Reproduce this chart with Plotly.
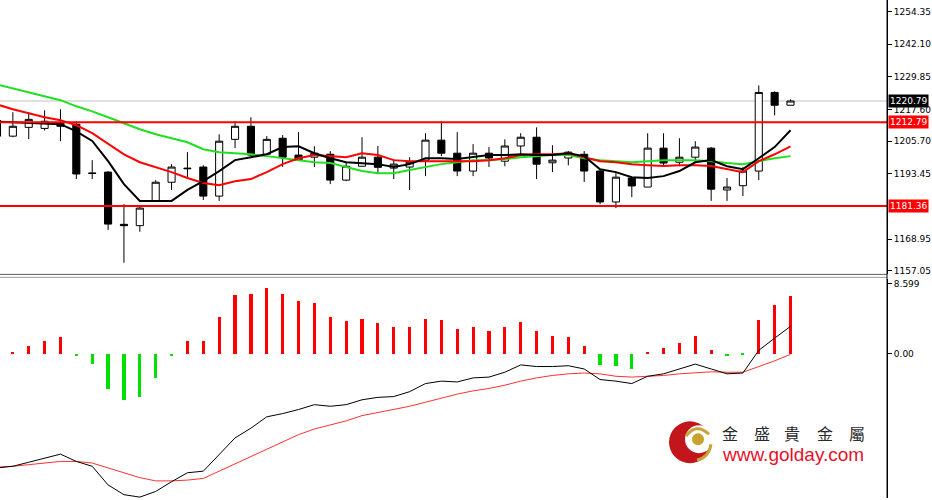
import plotly.graph_objects as go

# ---------------- data ----------------
idx = list(range(51))
opens = [1213.5, 1207.6, 1210.9, 1210.5, 1212.4, 1212.1, 1193.8, 1194.1, 1174.5, 1174.0,
         1183.2, 1190.3, 1195.6, 1196.0, 1185.1, 1206.4, 1211.3, 1200.8, 1206.8, 1200.5,
         1199.7, 1200.8, 1191.1, 1196.3, 1199.7, 1195.6, 1196.0, 1198.6, 1206.1, 1201.2,
         1194.5, 1201.2, 1198.2, 1203.9, 1207.2, 1197.6, 1199.4, 1200.8, 1194.5, 1182.9,
         1191.9, 1188.5, 1203.1, 1197.8, 1199.7, 1203.1, 1187.4, 1189.0, 1194.5, 1224.0,
         1219.2]
highs = [1215.0, 1216.6, 1216.6, 1217.3, 1217.7, 1213.2, 1198.6, 1194.5, 1182.1, 1181.4,
         1191.1, 1197.1, 1201.6, 1196.7, 1208.3, 1213.2, 1214.7, 1207.6, 1208.0, 1209.1,
         1203.8, 1202.0, 1197.8, 1207.2, 1203.9, 1199.0, 1199.7, 1208.7, 1213.2, 1209.1,
         1204.6, 1203.5, 1206.4, 1208.7, 1210.9, 1204.2, 1202.0, 1202.0, 1195.2, 1194.1,
         1192.2, 1208.7, 1208.7, 1206.8, 1205.7, 1203.5, 1191.9, 1196.0, 1226.6, 1224.4,
         1221.4]
lows = [1206.0, 1207.2, 1206.5, 1209.7, 1205.7, 1191.5, 1191.5, 1172.4, 1160.1, 1171.7,
        1182.9, 1187.4, 1191.9, 1183.6, 1183.3, 1203.1, 1200.1, 1200.5, 1196.0, 1198.2,
        1196.0, 1189.6, 1190.7, 1196.3, 1193.4, 1191.5, 1187.4, 1192.6, 1200.1, 1192.6,
        1192.6, 1196.0, 1196.3, 1200.8, 1191.5, 1194.1, 1196.7, 1190.4, 1182.1, 1180.6,
        1184.7, 1188.5, 1196.3, 1196.3, 1197.8, 1183.3, 1183.3, 1185.1, 1191.1, 1215.4,
        1219.2]
closes = [1207.6, 1211.3, 1213.9, 1213.2, 1211.3, 1193.4, 1193.6, 1174.6, 1174.0, 1180.6,
          1190.3, 1196.0, 1195.4, 1185.1, 1205.7, 1211.3, 1200.5, 1206.4, 1199.7, 1198.6,
          1201.2, 1191.1, 1196.3, 1199.7, 1195.9, 1197.1, 1197.8, 1206.1, 1201.2, 1194.5,
          1201.2, 1199.4, 1203.9, 1207.2, 1197.1, 1198.6, 1201.6, 1194.5, 1182.9, 1192.2,
          1188.9, 1203.1, 1197.5, 1199.7, 1203.5, 1187.7, 1188.5, 1194.5, 1224.0, 1219.2,
          1220.79]

ma_fast = [1213.0, 1212.8, 1212.6, 1212.4, 1212.1, 1209.4, 1205.8, 1198.2, 1189.6, 1183.3,
           1183.3, 1183.3, 1187.4, 1190.7, 1194.5, 1198.6, 1199.7, 1200.8, 1203.5, 1203.8,
           1201.2, 1199.3, 1197.8, 1197.5, 1197.1, 1196.0, 1197.1, 1199.3, 1199.3, 1199.0,
           1199.7, 1200.5, 1200.5, 1200.8, 1200.5, 1200.5, 1201.2, 1200.1, 1195.2, 1194.1,
           1192.2, 1191.9, 1192.6, 1194.5, 1197.8, 1198.6, 1196.3, 1195.2, 1199.3, 1203.5,
           1209.8]
ma_mid = [1219.5, 1217.7, 1216.2, 1214.7, 1213.6, 1211.7, 1208.7, 1204.6, 1200.8, 1197.8,
          1196.0, 1194.1, 1191.9, 1190.0, 1189.2, 1190.7, 1191.5, 1194.1, 1197.1, 1199.3,
          1200.5, 1200.1, 1199.7, 1201.2, 1200.5, 1198.6, 1198.2, 1198.2, 1198.2, 1198.2,
          1198.2, 1198.6, 1199.3, 1200.5, 1200.8, 1200.8, 1201.2, 1199.7, 1198.2, 1197.8,
          1197.1, 1196.7, 1196.4, 1196.7, 1196.7, 1196.4, 1195.2, 1194.1, 1198.2, 1200.8,
          1203.8]
ma_slow = [1227.0, 1225.5, 1224.0, 1222.5, 1221.1, 1218.8, 1216.9, 1214.7, 1212.4, 1210.2,
           1208.3, 1206.8, 1205.3, 1202.7, 1201.6, 1201.2, 1200.8, 1200.1, 1199.3, 1198.6,
           1197.8, 1197.5, 1196.0, 1194.5, 1193.7, 1193.7, 1194.9, 1196.0, 1197.1, 1197.8,
           1198.6, 1198.6, 1199.0, 1199.7, 1200.1, 1200.5, 1200.5, 1199.3, 1198.6, 1198.2,
           1197.8, 1198.2, 1198.6, 1198.6, 1198.6, 1198.2, 1197.5, 1197.1, 1198.2, 1199.3,
           1200.1]

macd_hist = [None, 0.1, 0.9, 1.56, 2.05, -0.3, -1.23, -4.3, -5.73, -5.32,
             -2.95, -0.3, 1.56, 1.56, 4.58, 7.25, 7.37, 8.1, 7.37, 6.5,
             6.26, 4.58, 4.09, 4.3, 3.77, 3.28, 3.28, 4.3, 4.2, 3.07,
             3.28, 2.79, 3.28, 3.89, 2.79, 2.17, 2.05, 0.94, -1.43, -1.5,
             -1.84, 0.2, 0.7, 1.31, 2.17, 0.5, -0.3, -0.1, 4.2, 6.05,
             7.16]
macd_main = [-14.1, -13.9, -13.4, -12.9, -12.4, -13.3, -13.9, -16.2, -17.4, -17.7,
             -17.0, -15.8, -14.7, -14.5, -12.5, -10.4, -9.2, -7.8, -7.4, -6.9,
             -6.3, -6.5, -6.3, -5.7, -5.4, -5.3, -4.7, -3.7, -3.4, -3.5,
             -3.0, -2.9, -2.3, -1.4, -1.6, -1.6, -1.5, -1.9, -3.2, -3.4,
             -3.7, -2.8, -2.5, -1.9, -1.3, -1.9, -2.5, -2.4, 0.4, 1.9,
             3.35]
macd_signal = [-14.0, -13.9, -13.7, -13.5, -13.3, -13.3, -13.5, -14.1, -14.7, -15.3,
               -15.7, -15.7, -15.6, -15.4, -14.5, -13.6, -12.7, -11.8, -10.8, -10.0,
               -9.3, -8.8, -8.3, -7.65, -7.25, -6.9, -6.5, -6.0, -5.5, -5.0,
               -4.6, -4.3, -3.9, -3.4, -3.0, -2.7, -2.5, -2.4, -2.5, -2.8,
               -2.9, -2.8, -2.7, -2.5, -2.4, -2.25, -2.3, -2.3, -1.6, -0.9,
               -0.1]

price_ticks = [1254.35, 1242.10, 1229.85, 1217.60, 1205.70, 1193.45, 1168.95, 1157.05]
price_tick_text = ["1254.35", "1242.10", "1229.85", "1217.60", "1205.70", "1193.45", "1168.95", "1157.05"]
resistance = 1212.79
support = 1181.36
bid = 1220.79
osc_ticks = [8.599, 0.0]
osc_tick_text = ["8.599", "0.00"]

logo_cn = ["金", "盛", "貴", "金", "屬"]
logo_url = "www.golday.com"

# ---------------- figure ----------------
PW, PH = 887.0, 500.0


def px(x):
    return x / PW


def py(y):
    return 1 - y / PH


FONT = "DejaVu Sans"

fig = go.Figure()

fig.add_trace(go.Candlestick(
    x=idx, open=opens, high=highs, low=lows, close=closes,
    increasing=dict(line=dict(color="#000000", width=1), fillcolor="#ffffff"),
    decreasing=dict(line=dict(color="#000000", width=1), fillcolor="#000000"),
    whiskerwidth=0, showlegend=False, hoverinfo="skip",
    xaxis="x", yaxis="y"))

fig.add_trace(go.Scatter(x=idx, y=ma_slow, mode="lines",
                         line=dict(color="#1ee01e", width=2), showlegend=False,
                         xaxis="x", yaxis="y"))
fig.add_trace(go.Scatter(x=idx, y=ma_mid, mode="lines",
                         line=dict(color="#ff0000", width=2), showlegend=False,
                         xaxis="x", yaxis="y"))
fig.add_trace(go.Scatter(x=idx, y=ma_fast, mode="lines",
                         line=dict(color="#000000", width=2), showlegend=False,
                         xaxis="x", yaxis="y"))

bar_colors = ["#ff0000" if (v is not None and v >= 0) else "#00e000" for v in macd_hist]
fig.add_trace(go.Bar(x=idx, y=macd_hist, marker=dict(color=bar_colors, line=dict(width=0)),
                     width=0.2, showlegend=False, xaxis="x", yaxis="y2"))
fig.add_trace(go.Scatter(x=idx, y=macd_signal, mode="lines",
                         line=dict(color="#ff3030", width=1), showlegend=False,
                         xaxis="x", yaxis="y2"))
fig.add_trace(go.Scatter(x=idx, y=macd_main, mode="lines",
                         line=dict(color="#000000", width=1), showlegend=False,
                         xaxis="x", yaxis="y2"))

shapes = [
    dict(type="line", xref="paper", x0=0, x1=1, yref="y", y0=bid, y1=bid,
         line=dict(color="#c0c0c0", width=1), layer="below"),
    dict(type="line", xref="paper", x0=0, x1=1, yref="y", y0=resistance, y1=resistance,
         line=dict(color="#ff0000", width=2)),
    dict(type="line", xref="paper", x0=0, x1=1, yref="y", y0=support, y1=support,
         line=dict(color="#ff0000", width=2)),
    # pane separators
    dict(type="line", xref="paper", yref="paper", x0=0, x1=1, y0=py(275.5), y1=py(275.5),
         line=dict(color="#606060", width=1)),
    dict(type="line", xref="paper", yref="paper", x0=0, x1=1, y0=py(278.5), y1=py(278.5),
         line=dict(color="#a0a0a0", width=1)),
    # right axis line full height
    dict(type="line", xref="paper", yref="paper", x0=1, x1=1, y0=0, y1=1,
         line=dict(color="#000000", width=1)),
    # logo
    dict(type="circle", xref="paper", yref="paper", x0=px(669), x1=px(711), y0=py(465), y1=py(423),
         fillcolor="#c3151c", line=dict(width=0)),
    dict(type="circle", xref="paper", yref="paper", x0=px(685), x1=px(713), y0=py(455), y1=py(427),
         fillcolor="#ffffff", line=dict(width=0)),
    dict(type="path", xref="paper", yref="paper",
         path="M {} {} Q {} {} {} {}".format(px(686), py(438), px(696), py(424), px(709), py(436)),
         line=dict(color="#c9a33a", width=3)),
    dict(type="path", xref="paper", yref="paper",
         path="M {} {} Q {} {} {} {}".format(px(711), py(446), px(709), py(459), px(697), py(462)),
         line=dict(color="#c9a33a", width=3)),
    dict(type="circle", xref="paper", yref="paper", x0=px(692), x1=px(704), y0=py(447), y1=py(435),
         fillcolor="#c8a22c", line=dict(width=0)),
]

annotations = [
    dict(x=1, xref="paper", y=bid, yref="y", text="1220.79", xanchor="left", xshift=1,
         showarrow=False, bgcolor="#000000", borderpad=1,
         font=dict(family=FONT, size=9, color="#ffffff")),
    dict(x=1, xref="paper", y=resistance, yref="y", text="1212.79", xanchor="left", xshift=1,
         showarrow=False, bgcolor="#ff0000", borderpad=1,
         font=dict(family=FONT, size=9, color="#ffffff")),
    dict(x=1, xref="paper", y=support, yref="y", text="1181.36", xanchor="left", xshift=1,
         showarrow=False, bgcolor="#ff0000", borderpad=1,
         font=dict(family=FONT, size=9, color="#ffffff")),
]
cn_centers = [730, 761.5, 791.5, 825, 856.5]
for ch, cx in zip(logo_cn, cn_centers):
    annotations.append(dict(x=px(cx), y=py(434.5), xref="paper", yref="paper", text=ch,
                            showarrow=False, xanchor="center", yanchor="middle",
                            font=dict(family="Noto Sans CJK TC", size=16, color="#2a2a2a")))
annotations.append(dict(x=px(793), y=py(456.5), xref="paper", yref="paper", text=logo_url,
                        showarrow=False, xanchor="center", yanchor="middle",
                        font=dict(family="Liberation Sans", size=19, color="#e8102a")))

fig.update_layout(
    width=932, height=500,
    margin=dict(l=0, r=45, t=0, b=0),
    paper_bgcolor="#ffffff", plot_bgcolor="#ffffff",
    showlegend=False, bargap=0, boxgap=0.36,
    xaxis=dict(range=[0.19, 56.08], visible=False, rangeslider=dict(visible=False),
               anchor="y2"),
    yaxis=dict(domain=[0.45, 1], range=[1155.9, 1258.7], side="right",
               tickmode="array", tickvals=price_ticks, ticktext=price_tick_text,
               ticks="outside", ticklen=4, tickcolor="#000000",
               showline=True, linecolor="#000000", showgrid=False, zeroline=False,
               tickfont=dict(family=FONT, size=9, color="#000000")),
    yaxis2=dict(domain=[0, 0.44], range=[-17.81, 9.21], side="right",
                tickmode="array", tickvals=osc_ticks, ticktext=osc_tick_text,
                ticks="outside", ticklen=4, tickcolor="#000000",
                showline=True, linecolor="#000000", showgrid=False, zeroline=False,
                tickfont=dict(family=FONT, size=9, color="#000000")),
    shapes=shapes, annotations=annotations,
)

fig.write_html("out.html", config={"displayModeBar": False},
               post_script="document.body.style.margin='0';document.body.style.overflow='hidden';")
